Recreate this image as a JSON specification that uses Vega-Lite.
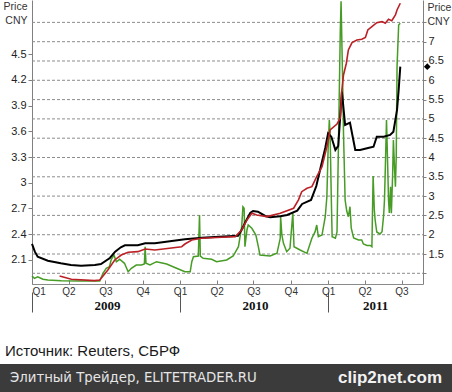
{
  "$schema": "https://vega.github.io/schema/vega-lite/v6.json",
  "padding": 0,
  "background": "white",
  "spacing": 31,
  "config": {
    "view": {"stroke": null},
    "font": "Liberation Sans",
    "axis": {"labelFont": "Liberation Sans", "titleFont": "Liberation Sans", "labelColor": "#222222", "domainColor": "#808080", "tickColor": "#808080"}
  },
  "datasets": {
    "black": [
      {"date": "2009-01-01", "price": 2.287}, {"date": "2009-01-08", "price": 2.197}, {"date": "2009-01-15", "price": 2.138},
      {"date": "2009-02-09", "price": 2.092}, {"date": "2009-03-13", "price": 2.062}, {"date": "2009-04-07", "price": 2.042},
      {"date": "2009-05-02", "price": 2.034}, {"date": "2009-06-05", "price": 2.042}, {"date": "2009-06-20", "price": 2.053},
      {"date": "2009-07-12", "price": 2.123}, {"date": "2009-07-25", "price": 2.197}, {"date": "2009-08-08", "price": 2.248},
      {"date": "2009-08-18", "price": 2.271}, {"date": "2009-09-19", "price": 2.271}, {"date": "2009-10-07", "price": 2.295},
      {"date": "2009-10-31", "price": 2.295}, {"date": "2010-01-13", "price": 2.341}, {"date": "2010-02-24", "price": 2.36},
      {"date": "2010-03-28", "price": 2.368}, {"date": "2010-05-24", "price": 2.383}, {"date": "2010-06-03", "price": 2.461},
      {"date": "2010-06-10", "price": 2.531}, {"date": "2010-06-23", "price": 2.648}, {"date": "2010-06-30", "price": 2.671},
      {"date": "2010-07-12", "price": 2.663}, {"date": "2010-07-30", "price": 2.613}, {"date": "2010-08-11", "price": 2.598},
      {"date": "2010-09-05", "price": 2.61}, {"date": "2010-09-22", "price": 2.624}, {"date": "2010-10-17", "price": 2.675},
      {"date": "2010-10-29", "price": 2.753}, {"date": "2010-11-20", "price": 2.8}, {"date": "2010-12-03", "price": 2.962},
      {"date": "2010-12-15", "price": 3.207}, {"date": "2010-12-25", "price": 3.405}, {"date": "2011-01-01", "price": 3.577},
      {"date": "2011-01-09", "price": 3.537}, {"date": "2011-01-19", "price": 3.382}, {"date": "2011-01-26", "price": 3.429},
      {"date": "2011-02-04", "price": 4.062}, {"date": "2011-02-12", "price": 3.673}, {"date": "2011-02-24", "price": 3.7},
      {"date": "2011-03-09", "price": 3.382}, {"date": "2011-03-21", "price": 3.382}, {"date": "2011-04-07", "price": 3.402},
      {"date": "2011-04-23", "price": 3.42}, {"date": "2011-05-01", "price": 3.537}, {"date": "2011-05-18", "price": 3.537},
      {"date": "2011-06-03", "price": 3.557}, {"date": "2011-06-11", "price": 3.595}, {"date": "2011-06-20", "price": 3.848},
      {"date": "2011-06-24", "price": 4.081}, {"date": "2011-06-28", "price": 4.353}
    ],
    "red": [
      {"date": "2009-03-10", "price": 1.914}, {"date": "2009-04-08", "price": 1.875}, {"date": "2009-06-04", "price": 1.859},
      {"date": "2009-06-17", "price": 1.867}, {"date": "2009-07-07", "price": 1.983}, {"date": "2009-07-24", "price": 2.1},
      {"date": "2009-08-09", "price": 2.158}, {"date": "2009-08-26", "price": 2.19}, {"date": "2009-09-19", "price": 2.197},
      {"date": "2009-10-07", "price": 2.228}, {"date": "2009-10-31", "price": 2.217}, {"date": "2010-01-05", "price": 2.255},
      {"date": "2010-01-13", "price": 2.286}, {"date": "2010-01-30", "price": 2.333}, {"date": "2010-02-23", "price": 2.353},
      {"date": "2010-04-14", "price": 2.365}, {"date": "2010-05-17", "price": 2.372}, {"date": "2010-06-02", "price": 2.45},
      {"date": "2010-06-15", "price": 2.566}, {"date": "2010-06-27", "price": 2.644}, {"date": "2010-07-09", "price": 2.624},
      {"date": "2010-08-03", "price": 2.605}, {"date": "2010-09-05", "price": 2.644}, {"date": "2010-10-08", "price": 2.703},
      {"date": "2010-10-20", "price": 2.8}, {"date": "2010-10-28", "price": 2.896}, {"date": "2010-11-10", "price": 2.936},
      {"date": "2010-11-22", "price": 2.954}, {"date": "2010-12-04", "price": 3.071}, {"date": "2010-12-17", "price": 3.187},
      {"date": "2010-12-29", "price": 3.42}, {"date": "2011-01-06", "price": 3.615}, {"date": "2011-01-23", "price": 3.685},
      {"date": "2011-01-31", "price": 3.755}, {"date": "2011-02-04", "price": 4.081}, {"date": "2011-02-08", "price": 4.256},
      {"date": "2011-02-15", "price": 4.393}, {"date": "2011-02-20", "price": 4.548}, {"date": "2011-03-01", "price": 4.633},
      {"date": "2011-03-13", "price": 4.664}, {"date": "2011-03-25", "price": 4.672}, {"date": "2011-04-03", "price": 4.693},
      {"date": "2011-04-09", "price": 4.781}, {"date": "2011-04-19", "price": 4.819}, {"date": "2011-05-01", "price": 4.866},
      {"date": "2011-05-14", "price": 4.878}, {"date": "2011-05-22", "price": 4.859}, {"date": "2011-05-30", "price": 4.905},
      {"date": "2011-06-07", "price": 4.889}, {"date": "2011-06-16", "price": 4.955}, {"date": "2011-06-20", "price": 5.014},
      {"date": "2011-06-28", "price": 5.092}
    ],
    "green": [
      {"date": "2009-01-01", "price": 0.93}, {"date": "2009-01-07", "price": 0.87}, {"date": "2009-01-15", "price": 0.91},
      {"date": "2009-01-28", "price": 0.845}, {"date": "2009-02-09", "price": 0.826}, {"date": "2009-03-14", "price": 0.808},
      {"date": "2009-04-29", "price": 0.8}, {"date": "2009-06-17", "price": 0.8}, {"date": "2009-06-25", "price": 1.0},
      {"date": "2009-07-03", "price": 1.13}, {"date": "2009-07-11", "price": 1.17}, {"date": "2009-07-15", "price": 1.345},
      {"date": "2009-07-22", "price": 1.474}, {"date": "2009-07-28", "price": 1.3}, {"date": "2009-08-05", "price": 1.363},
      {"date": "2009-08-17", "price": 1.259}, {"date": "2009-08-26", "price": 1.041}, {"date": "2009-09-03", "price": 1.13},
      {"date": "2009-09-15", "price": 1.215}, {"date": "2009-09-28", "price": 1.215}, {"date": "2009-10-05", "price": 1.241},
      {"date": "2009-10-07", "price": 1.689}, {"date": "2009-10-09", "price": 1.259}, {"date": "2009-10-19", "price": 1.215},
      {"date": "2009-11-04", "price": 1.301}, {"date": "2009-11-29", "price": 1.241}, {"date": "2009-12-22", "price": 1.137},
      {"date": "2010-01-13", "price": 1.041}, {"date": "2010-01-26", "price": 1.041}, {"date": "2010-01-30", "price": 1.301},
      {"date": "2010-02-03", "price": 1.43}, {"date": "2010-02-15", "price": 1.448}, {"date": "2010-02-18", "price": 2.51},
      {"date": "2010-02-20", "price": 1.448}, {"date": "2010-02-27", "price": 1.389}, {"date": "2010-03-20", "price": 1.363},
      {"date": "2010-04-01", "price": 1.301}, {"date": "2010-04-26", "price": 1.345}, {"date": "2010-05-12", "price": 1.448},
      {"date": "2010-05-25", "price": 1.689}, {"date": "2010-06-02", "price": 2.207}, {"date": "2010-06-05", "price": 2.725},
      {"date": "2010-06-08", "price": 2.684}, {"date": "2010-06-10", "price": 1.689}, {"date": "2010-06-15", "price": 2.122},
      {"date": "2010-06-18", "price": 2.251}, {"date": "2010-06-27", "price": 2.166}, {"date": "2010-07-07", "price": 1.992},
      {"date": "2010-07-13", "price": 1.689}, {"date": "2010-07-17", "price": 1.474}, {"date": "2010-08-11", "price": 1.448},
      {"date": "2010-08-28", "price": 1.518}, {"date": "2010-09-05", "price": 1.907}, {"date": "2010-09-06", "price": 2.466},
      {"date": "2010-09-09", "price": 1.992}, {"date": "2010-09-13", "price": 1.777}, {"date": "2010-09-21", "price": 1.56},
      {"date": "2010-09-29", "price": 1.648}, {"date": "2010-10-06", "price": 2.554}, {"date": "2010-10-09", "price": 1.689},
      {"date": "2010-10-24", "price": 1.604}, {"date": "2010-11-10", "price": 1.518}, {"date": "2010-11-22", "price": 1.907},
      {"date": "2010-11-30", "price": 2.078}, {"date": "2010-12-04", "price": 2.251}, {"date": "2010-12-08", "price": 1.948},
      {"date": "2010-12-17", "price": 1.992}, {"date": "2010-12-25", "price": 2.466}, {"date": "2010-12-29", "price": 2.984},
      {"date": "2011-01-01", "price": 4.194}, {"date": "2011-01-04", "price": 4.972}, {"date": "2011-01-06", "price": 4.583},
      {"date": "2011-01-09", "price": 2.899}, {"date": "2011-01-11", "price": 1.948}, {"date": "2011-01-19", "price": 1.907},
      {"date": "2011-01-23", "price": 2.07}, {"date": "2011-01-27", "price": 4.635}, {"date": "2011-01-31", "price": 7.225},
      {"date": "2011-02-02", "price": 8.05}, {"date": "2011-02-06", "price": 5.922}, {"date": "2011-02-08", "price": 4.627},
      {"date": "2011-02-12", "price": 2.899}, {"date": "2011-02-16", "price": 2.614}, {"date": "2011-02-20", "price": 2.466},
      {"date": "2011-02-24", "price": 2.725}, {"date": "2011-02-27", "price": 2.174}, {"date": "2011-03-05", "price": 1.915},
      {"date": "2011-03-17", "price": 1.863}, {"date": "2011-03-25", "price": 1.863}, {"date": "2011-03-29", "price": 1.759},
      {"date": "2011-04-07", "price": 1.72}, {"date": "2011-04-15", "price": 1.72}, {"date": "2011-04-19", "price": 1.689},
      {"date": "2011-04-22", "price": 3.521}, {"date": "2011-04-25", "price": 2.64}, {"date": "2011-04-27", "price": 2.381},
      {"date": "2011-05-01", "price": 2.07}, {"date": "2011-05-09", "price": 2.018}, {"date": "2011-05-14", "price": 2.078},
      {"date": "2011-05-18", "price": 2.51}, {"date": "2011-05-20", "price": 2.899}, {"date": "2011-05-22", "price": 3.676},
      {"date": "2011-05-25", "price": 4.972}, {"date": "2011-05-28", "price": 3.762}, {"date": "2011-05-30", "price": 2.899},
      {"date": "2011-06-01", "price": 2.562}, {"date": "2011-06-04", "price": 3.244}, {"date": "2011-06-06", "price": 2.554},
      {"date": "2011-06-09", "price": 3.503}, {"date": "2011-06-11", "price": 4.453}, {"date": "2011-06-14", "price": 3.676},
      {"date": "2011-06-16", "price": 3.244}, {"date": "2011-06-18", "price": 4.021}, {"date": "2011-06-20", "price": 6.352},
      {"date": "2011-06-24", "price": 7.433}, {"date": "2011-06-28", "price": 7.477}
    ],
    "gridlevels": [
      {"level": 1}, {"level": 1.5}, {"level": 2}, {"level": 2.5}, {"level": 3}, {"level": 3.5}, {"level": 4},
      {"level": 4.5}, {"level": 5}, {"level": 5.5}, {"level": 6}, {"level": 6.5}, {"level": 7}, {"level": 7.5}
    ],
    "foot": [
      {"side": "left", "label": "Элитный Трейдер, ELITETRADER.RU"},
      {"side": "right", "label": "clip2net.com"}
    ]
  },
  "vconcat": [
    {
      "width": 452,
      "height": 284,
      "layer": [
        {
          "layer": [
            {
              "data": {"name": "gridlevels"},
              "mark": {"type": "rule", "color": "#8c8c8c", "strokeWidth": 1, "strokeDash": [3, 2]},
              "encoding": {
                "x": {"datum": {"year": 2009, "month": 1, "date": 1, "utc": true}},
                "x2": {"datum": {"year": 2011, "month": 8, "date": 23, "utc": true}},
                "y": {"field": "level"}
              }
            },
            {
              "data": {"name": "green"},
              "mark": {"type": "line", "color": "#479c25", "strokeWidth": 1.5, "clip": true},
              "encoding": {
                "x": {"field": "date"},
                "y": {"field": "price"}
              }
            }
          ],
          "encoding": {
            "x": {
              "type": "temporal",
              "scale": {"type": "utc", "nice": false, "range": [32, 423], "domain": [{"year": 2009, "month": 1, "date": 1, "utc": true}, {"year": 2011, "month": 8, "date": 23, "utc": true}]},
              "axis": {
                "orient": "bottom", "offset": 8, "domain": false, "grid": false, "title": null,
                "values": [{"year": 2009, "month": 1, "date": 1, "utc": true}, {"year": 2010, "month": 1, "date": 1, "utc": true}, {"year": 2011, "month": 1, "date": 1, "utc": true}],
                "labelExpr": "'' + utcyear(datum.value)",
                "tickSize": 20, "tickColor": "#555555", "labelFlush": false, "labelOverlap": false,
                "labelAlign": "center", "labelBaseline": "middle", "labelPadding": -7,
                "labelOffset": {"condition": {"test": "utcyear(datum.value) == 2011", "value": 47}, "value": 75},
                "labelFont": "Liberation Serif", "labelFontSize": 13, "labelFontWeight": "bold", "labelColor": "#111111"
              }
            },
            "y": {
              "type": "quantitative",
              "scale": {"domain": [0.723, 8.08], "nice": false, "zero": false},
              "axis": {
                "orient": "right", "offset": -29,
                "values": [1, 1.5, 2, 2.5, 3, 3.5, 4, 4.5, 5, 5.5, 6, 6.5, 7, 7.5],
                "format": ".3~g",
                "labelExpr": "datum.value < 1.2 || datum.value > 7.2 ? '' : datum.label",
                "grid": false,
                "tickSize": 3, "labelPadding": 2, "labelFontSize": 11,
                "title": ["Price", "CNY"], "titleAngle": 0, "titleAlign": "left", "titleBaseline": "top",
                "titleX": 4, "titleY": 2, "titleFontSize": 10.5, "titleFontWeight": "normal", "titleColor": "#333333", "titleLineHeight": 14
              }
            }
          }
        },
        {
          "layer": [
            {
              "data": {"name": "black"},
              "mark": {"type": "line", "color": "#000000", "strokeWidth": 2},
              "encoding": {
                "x": {"field": "date"},
                "y": {"field": "price"}
              }
            },
            {
              "data": {"name": "red"},
              "mark": {"type": "line", "color": "#bb2026", "strokeWidth": 1.6},
              "encoding": {
                "x": {"field": "date"},
                "y": {"field": "price"}
              }
            },
            {
              "data": {"name": "black"},
              "transform": [
                {"window": [{"op": "row_number", "as": "rn"}], "sort": [{"field": "date", "order": "descending"}]},
                {"filter": "datum.rn == 1"}
              ],
              "mark": {"type": "point", "shape": "diamond", "filled": true, "color": "#000000", "size": 45, "xOffset": 27, "opacity": 1},
              "encoding": {
                "x": {"field": "date"},
                "y": {"field": "price"}
              }
            }
          ],
          "encoding": {
            "x": {
              "type": "temporal",
              "scale": {"type": "utc", "nice": false, "range": [32, 423], "domain": [{"year": 2009, "month": 1, "date": 1, "utc": true}, {"year": 2011, "month": 8, "date": 23, "utc": true}]},
              "axis": {
                "orient": "bottom", "grid": false, "title": null, "domainColor": "#8a8a8a",
                "values": [
                  {"year": 2009, "month": 1, "date": 1, "utc": true}, {"year": 2009, "month": 4, "date": 1, "utc": true},
                  {"year": 2009, "month": 7, "date": 1, "utc": true}, {"year": 2009, "month": 10, "date": 1, "utc": true},
                  {"year": 2010, "month": 1, "date": 1, "utc": true}, {"year": 2010, "month": 4, "date": 1, "utc": true},
                  {"year": 2010, "month": 7, "date": 1, "utc": true}, {"year": 2010, "month": 10, "date": 1, "utc": true},
                  {"year": 2011, "month": 1, "date": 1, "utc": true}, {"year": 2011, "month": 4, "date": 1, "utc": true},
                  {"year": 2011, "month": 7, "date": 1, "utc": true}
                ],
                "labelExpr": "'Q' + (floor(utcmonth(datum.value) / 3) + 1)",
                "tickSize": -4, "labelPadding": 6, "labelFlush": true, "labelOverlap": false,
                "labelFontSize": 10, "labelColor": "#333333"
              }
            },
            "y": {
              "type": "quantitative",
              "scale": {"domain": [1.82, 5.13], "nice": false, "zero": false},
              "axis": {
                "orient": "left", "offset": -32,
                "values": [2.1, 2.4, 2.7, 3, 3.3, 3.6, 3.9, 4.2, 4.5],
                "format": ".3~g",
                "grid": false, "tickSize": 4, "labelPadding": 2, "labelFontSize": 11,
                "title": ["Price", "CNY"], "titleAngle": 0, "titleAlign": "right", "titleBaseline": "top",
                "titleX": -5, "titleY": 1, "titleFontSize": 10.5, "titleFontWeight": "normal", "titleColor": "#333333", "titleLineHeight": 14
              }
            }
          }
        }
      ],
      "resolve": {"scale": {"y": "independent"}, "axis": {"x": "independent"}}
    },
    {
      "width": 452,
      "height": 28,
      "view": {"fill": "#3b3b3b", "stroke": null},
      "title": {"text": "Источник: Reuters, СБРФ", "anchor": "start", "orient": "top", "fontSize": 15, "font": "Liberation Sans", "fontWeight": "normal", "color": "#1a1a1a", "offset": 5, "dx": 5},
      "data": {"name": "foot"},
      "layer": [
        {
          "transform": [{"filter": "datum.side == 'left'"}],
          "mark": {"type": "text", "align": "left", "baseline": "middle", "dx": 10, "font": "DejaVu Sans", "fontSize": 13.3, "color": "#e6e6e6"},
          "encoding": {
            "x": {"field": "side", "type": "nominal", "scale": {"type": "point", "padding": 0, "domain": ["left", "right"]}, "axis": null},
            "text": {"field": "label"}
          }
        },
        {
          "transform": [{"filter": "datum.side == 'right'"}],
          "mark": {"type": "text", "align": "right", "baseline": "middle", "dx": -10, "font": "Liberation Sans", "fontSize": 17, "fontWeight": "bold", "color": "#f2f2f2"},
          "encoding": {
            "x": {"field": "side", "type": "nominal", "scale": {"type": "point", "padding": 0, "domain": ["left", "right"]}, "axis": null},
            "text": {"field": "label"}
          }
        }
      ]
    }
  ]
}
